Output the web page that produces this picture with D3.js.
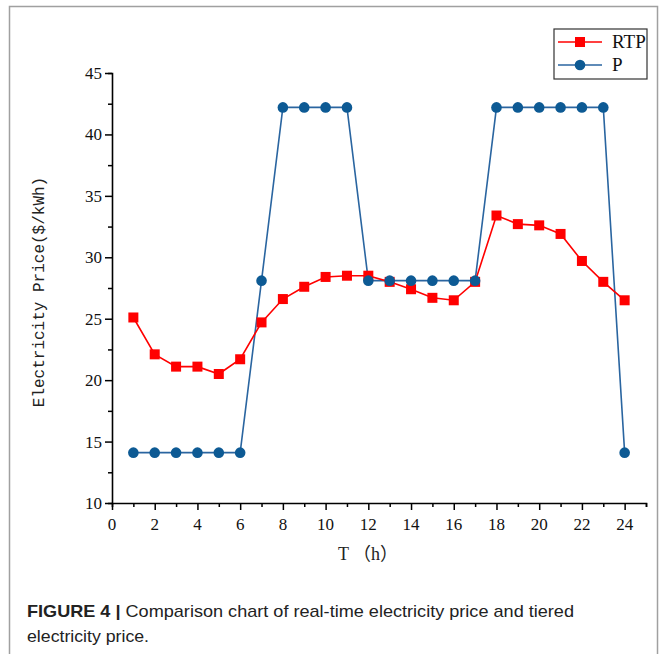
<!DOCTYPE html>
<html>
<head>
<meta charset="utf-8">
<title>RTP vs P</title>
<script src="https://cdn.jsdelivr.net/npm/d3@7"></script>
<style>
  body { margin: 0; background: #fff; }
  svg { display: block; }
</style>
</head>
<body>
<svg id="chart" width="664" height="654"></svg>
<script>
// hours
var hours = d3.range(1, 25);
// real-time price
var rtp = [25.1, 22.1, 21.1, 21.1, 20.5, 21.7, 24.7, 26.6, 27.6, 28.4, 28.5, 28.5,
           28.0, 27.4, 26.7, 26.5, 28.0, 33.4, 32.7, 32.6, 31.9, 29.7, 28.0, 26.5];
// tiered price
var tiered = [14.1, 14.1, 14.1, 14.1, 14.1, 14.1, 28.1, 42.2, 42.2, 42.2, 42.2, 28.1,
              28.1, 28.1, 28.1, 28.1, 28.1, 42.2, 42.2, 42.2, 42.2, 42.2, 42.2, 14.1];
var xTicks = d3.range(0, 25, 2);
var yTicks = d3.range(10, 46, 5);

var svg = d3.select("#chart");

// outer frame
svg.append("rect")
    .attr("x", 9.5).attr("y", 6.5)
    .attr("width", 648).attr("height", 680)
    .attr("fill", "none")
    .attr("stroke", "#a0a0a0")
    .attr("stroke-width", 1.5);

var x = d3.scaleLinear().domain([0, 25]).range([112, 646]);
var y = d3.scaleLinear().domain([10, 45]).range([503, 73]);

var axisFont = "'Liberation Serif', 'DejaVu Serif', serif";

// x axis
var gx = svg.append("g").attr("transform", "translate(0," + y(10) + ")");
gx.call(d3.axisBottom(x).tickValues(d3.range(0, 26, 1)).tickSize(4).tickFormat(""));
gx.call(function(g) {
  g.selectAll(".tick").filter(function(d) { return d % 2 === 0 && d <= 24; })
    .select("line").attr("y2", 7);
});
gx.select(".domain").attr("stroke-width", 1.6);
gx.selectAll(".tick line").attr("stroke-width", 1.5);
gx.selectAll(".xlab").data(xTicks).enter().append("text")
    .attr("class", "xlab")
    .attr("x", function(d) { return x(d); })
    .attr("y", 27)
    .attr("text-anchor", "middle")
    .attr("fill", "#111")
    .style("font-family", axisFont)
    .style("font-size", "17px")
    .text(function(d) { return d; });

// y axis
var gy = svg.append("g").attr("transform", "translate(" + x(0) + ",0)");
gy.call(d3.axisLeft(y).tickValues(d3.range(10, 45.1, 2.5)).tickSize(4).tickFormat(""));
gy.call(function(g) {
  g.selectAll(".tick").filter(function(d) { return d % 5 === 0; })
    .select("line").attr("x2", -7);
});
gy.select(".domain").attr("stroke-width", 1.6);
gy.selectAll(".tick line").attr("stroke-width", 1.5);
gy.selectAll(".ylab").data(yTicks).enter().append("text")
    .attr("class", "ylab")
    .attr("x", -10)
    .attr("y", function(d) { return y(d) + 6; })
    .attr("text-anchor", "end")
    .attr("fill", "#111")
    .style("font-family", axisFont)
    .style("font-size", "17px")
    .text(function(d) { return d; });

// axis titles
svg.append("text")
    .attr("transform", "translate(44,292) rotate(-90)")
    .attr("text-anchor", "middle")
    .attr("fill", "#222")
    .style("font-family", "'Liberation Mono', 'DejaVu Sans Mono', monospace")
    .style("font-size", "16px")
    .text("Electricity Price($/kWh)");

svg.append("text")
    .attr("x", 368).attr("y", 560)
    .attr("text-anchor", "middle")
    .attr("fill", "#222")
    .style("font-family", axisFont + ", 'Noto Sans CJK SC'")
    .style("font-size", "18px")
    .text("T （h）");

// lines
var lineRtp = d3.line().x(function(d, i) { return x(hours[i]); }).y(function(d) { return y(d); });

svg.append("path")
    .datum(tiered)
    .attr("d", lineRtp)
    .attr("fill", "none")
    .attr("stroke", "#2a65a0")
    .attr("stroke-width", 1.6);

svg.append("path")
    .datum(rtp)
    .attr("d", lineRtp)
    .attr("fill", "none")
    .attr("stroke", "#ff0000")
    .attr("stroke-width", 1.6);

svg.selectAll(".sq").data(rtp).enter().append("rect")
    .attr("class", "sq")
    .attr("x", function(d, i) { return x(hours[i]) - 5; })
    .attr("y", function(d) { return y(d) - 5; })
    .attr("width", 10).attr("height", 10)
    .attr("fill", "#ff0000");

svg.selectAll(".dot").data(tiered).enter().append("circle")
    .attr("class", "dot")
    .attr("cx", function(d, i) { return x(hours[i]); })
    .attr("cy", function(d) { return y(d); })
    .attr("r", 5.3)
    .attr("fill", "#0d5a94");

// legend
var lg = svg.append("g").attr("transform", "translate(554,29)");
lg.append("rect")
    .attr("width", 93).attr("height", 50)
    .attr("fill", "#fff")
    .attr("stroke", "#333")
    .attr("stroke-width", 1.2);
lg.append("line").attr("x1", 4).attr("x2", 48).attr("y1", 13).attr("y2", 13)
    .attr("stroke", "#ff0000").attr("stroke-width", 1.6);
lg.append("rect").attr("x", 21).attr("y", 8).attr("width", 10).attr("height", 10).attr("fill", "#ff0000");
lg.append("line").attr("x1", 4).attr("x2", 48).attr("y1", 36).attr("y2", 36)
    .attr("stroke", "#2a65a0").attr("stroke-width", 1.6);
lg.append("circle").attr("cx", 26).attr("cy", 36).attr("r", 5.3).attr("fill", "#0d5a94");
lg.selectAll(".lt").data(["RTP", "P"]).enter().append("text")
    .attr("x", 58)
    .attr("y", function(d, i) { return 19 + i * 23; })
    .attr("fill", "#111")
    .style("font-family", axisFont)
    .style("font-size", "19px")
    .text(function(d) { return d; });

// caption
var cap = svg.append("text")
    .attr("x", 27).attr("y", 617)
    .attr("fill", "#222")
    .style("font-family", "'Liberation Sans', Arial, sans-serif")
    .style("font-size", "17px");
cap.append("tspan").style("font-weight", "bold").text("FIGURE 4 |");
cap.append("tspan").text(" Comparison chart of real-time electricity price and tiered");
svg.select("text:last-child");
cap.attr("textLength", 547).attr("lengthAdjust", "spacingAndGlyphs");

svg.append("text")
    .attr("x", 27).attr("y", 642)
    .attr("fill", "#222")
    .style("font-family", "'Liberation Sans', Arial, sans-serif")
    .style("font-size", "17px")
    .attr("textLength", 122).attr("lengthAdjust", "spacingAndGlyphs")
    .text("electricity price.");
</script>
</body>
</html>
